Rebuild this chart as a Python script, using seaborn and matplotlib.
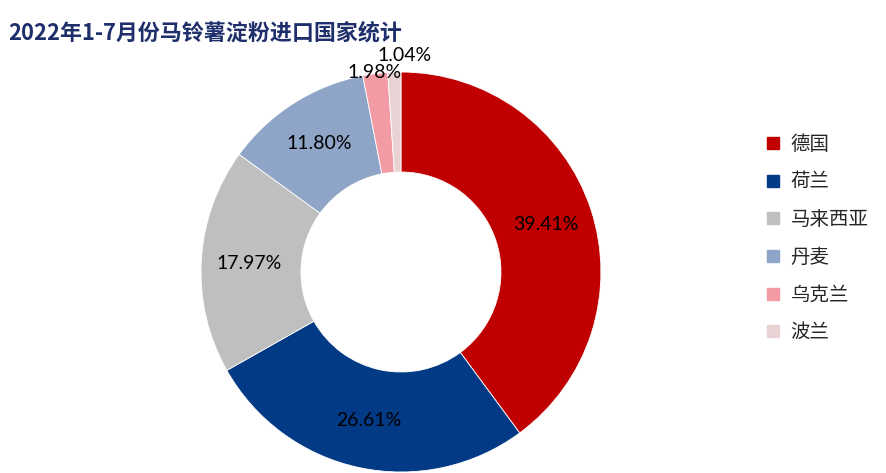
import matplotlib
matplotlib.use('Agg')
import matplotlib.pyplot as plt
import seaborn as sns
from matplotlib.lines import Line2D

# Data
countries = ['德国', '荷兰', '马来西亚', '丹麦', '乌克兰', '波兰']
shares = [39.41, 26.61, 17.97, 11.80, 1.98, 1.04]
labels = ['39.41%', '26.61%', '17.97%', '11.80%', '1.98%', '1.04%']
colors = ['#C00000', '#023A86', '#BFBFBF', '#8EA5C8', '#F29BA4', '#E8D2D4']

sns.set_theme(style='white')
plt.rcParams['font.family'] = ['Noto Sans CJK SC', 'DejaVu Sans']

fig = plt.figure(figsize=(8.86, 4.73), dpi=100)
ax = fig.add_axes([0.1704, -0.1036, 0.5643, 1.0571])

wedges, texts, autotexts = ax.pie(
    shares, colors=colors, startangle=90, counterclock=False,
    labels=None, autopct='%1.1f%%', pctdistance=0.76,
    wedgeprops=dict(width=0.5, edgecolor='white', linewidth=0.6),
)
ax.set_xlim(-1.25, 1.25)
ax.set_ylim(-1.25, 1.25)
ax.set_aspect('equal')

for t, lab in zip(autotexts, labels):
    t.set_text(lab)
    t.set_fontfamily('Lato')
    t.set_fontsize(14)
    t.set_color('black')

# small slices: labels above the ring
autotexts[4].set_position((-0.13, 1.0))
autotexts[5].set_position((0.02, 1.085))

fig.text(0.009, 0.93, '2022年1-7月份马铃薯淀粉进口国家统计', fontsize=15.8,
         fontweight='bold', color='#1F2F6B', va='center', ha='left')

handles = [Line2D([0], [0], marker='s', linestyle='', markersize=9,
                  markerfacecolor=c, markeredgecolor=c) for c in colors]
fig.legend(handles, countries, loc='upper left', bbox_to_anchor=(0.853, 0.738),
           frameon=False, fontsize=14, labelspacing=0.86, handlelength=0.8,
           handletextpad=0.5, borderpad=0)

fig.savefig('out.png', dpi=100)
